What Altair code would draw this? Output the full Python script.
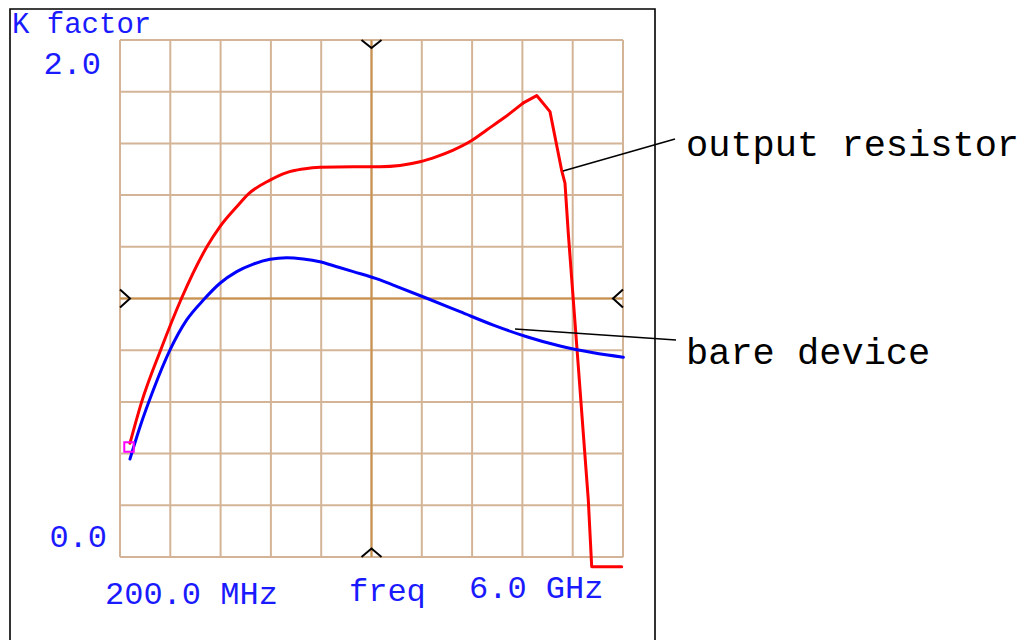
import altair as alt
import pandas as pd

# ---- data ----
red_freq = [0.315, 0.450, 0.669, 0.911, 1.207, 1.353, 1.546, 1.679, 1.930, 2.122, 2.314,
            2.506, 2.890, 3.198, 3.659, 3.852, 4.043, 4.236, 4.428, 4.620, 4.851, 5.005, 5.158,
            5.292, 5.331, 5.369, 5.427, 5.485, 5.542, 5.600, 5.639, 5.985]
red_k = [0.440, 0.600, 0.801, 1.002, 1.203, 1.278, 1.355, 1.404, 1.458, 1.487, 1.501,
         1.508, 1.510, 1.510, 1.529, 1.549, 1.574, 1.607, 1.652, 1.697, 1.757, 1.785, 1.723,
         1.497, 1.446, 1.253, 0.994, 0.736, 0.479, 0.220, -0.0375, -0.0375]

blue_freq = [0.315, 0.431, 0.584, 0.777, 0.969, 1.161, 1.353, 1.546, 1.737, 1.930, 2.122, 2.314,
             2.506, 2.699, 2.890, 3.198, 3.351, 3.737, 4.121, 4.505, 4.890, 5.274, 5.658, 6.004]
blue_k = [0.379, 0.504, 0.646, 0.801, 0.917, 0.994, 1.059, 1.104, 1.133, 1.152, 1.158, 1.153,
          1.142, 1.123, 1.104, 1.072, 1.052, 1.001, 0.949, 0.897, 0.852, 0.816, 0.790, 0.773]

marker_freq = [0.304]
marker_k = [0.4255]

grid_x = [0.2, 0.78, 1.36, 1.94, 2.52, 3.1, 3.68, 4.26, 4.84, 5.42, 6.0]
grid_y = [0.0, 0.2, 0.4, 0.6, 0.8, 1.0, 1.2, 1.4, 1.6, 1.8, 2.0]
center_x = [3.1]
center_y = [1.0]

annot_labels = ["output resistor", "bare device"]
annot_from_freq = [5.308, 4.755]
annot_from_k = [1.493, 0.882]
annot_to_freq = [6.600, 6.611]
annot_to_k = [1.617, 0.8395]

FONT = "Liberation Mono"
BLUE = "#1a1aff"

xs = alt.Scale(domain=[0.2, 6.0], nice=False, zero=False)
ys = alt.Scale(domain=[0.0, 2.0], nice=False, zero=False)

# frame around everything
frame = alt.Chart(pd.DataFrame({"a": [0]})).mark_rect(
    fill=None, stroke="black", strokeWidth=1.6
).encode(x=alt.value(-110), x2=alt.value(535), y=alt.value(-31), y2=alt.value(620))

gx = pd.DataFrame({"f": grid_x})
gy = pd.DataFrame({"k": grid_y})
vgrid = alt.Chart(gx).mark_rule(color="#d4b496", strokeWidth=2).encode(
    x=alt.X("f:Q", scale=xs, axis=None))
hgrid = alt.Chart(gy).mark_rule(color="#d4b496", strokeWidth=2).encode(
    y=alt.Y("k:Q", scale=ys, axis=None))
vcenter = alt.Chart(pd.DataFrame({"f": center_x})).mark_rule(color="#c8914f", strokeWidth=2).encode(
    x=alt.X("f:Q", scale=xs, axis=None))
hcenter = alt.Chart(pd.DataFrame({"k": center_y})).mark_rule(color="#c8914f", strokeWidth=2).encode(
    y=alt.Y("k:Q", scale=ys, axis=None))

# chevrons at mid of each border
chev = pd.DataFrame({
    "f": [3.1, 3.1, 0.2, 6.0],
    "k": [2.0, 0.0, 1.0, 1.0],
    "shape": ["M -1 0 L 0 0.8 L 1 0", "M -1 0 L 0 -0.85 L 1 0",
              "M 0 -0.9 L 1 0 L 0 0.9", "M 0 -0.9 L -1 0 L 0 0.9"],
})
chevrons = alt.Chart(chev).mark_point(filled=False, stroke="black", strokeWidth=2, size=400, opacity=1).encode(
    x=alt.X("f:Q", scale=xs, axis=None),
    y=alt.Y("k:Q", scale=ys, axis=None),
    shape=alt.Shape("shape:N", scale=None, legend=None),
)

SPLIT = 20  # smooth part of the red trace ends at the rising shoulder
red_smooth = pd.DataFrame({"f": red_freq[:SPLIT + 1], "k": red_k[:SPLIT + 1], "i": range(SPLIT + 1)})
red_sharp = pd.DataFrame({"f": red_freq[SPLIT:], "k": red_k[SPLIT:], "i": range(len(red_freq) - SPLIT)})
blue_df = pd.DataFrame({"f": blue_freq, "k": blue_k, "i": range(len(blue_freq))})

def trace(df, color, interp):
    return alt.Chart(df).mark_line(color=color, strokeWidth=3, clip=False, interpolate=interp,
                                   strokeJoin="round", strokeCap="round").encode(
        x=alt.X("f:Q", scale=xs, axis=None), y=alt.Y("k:Q", scale=ys, axis=None), order="i:Q")

red_line1 = trace(red_smooth, "#ff0000", "monotone")
red_line2 = trace(red_sharp, "#ff0000", "linear")
blue_line = trace(blue_df, "#0000ff", "monotone")

marker = alt.Chart(pd.DataFrame({"f": marker_freq, "k": marker_k})).mark_point(
    shape="square", filled=False, stroke="#ff00ff", strokeWidth=2, size=90, opacity=1
).encode(x=alt.X("f:Q", scale=xs, axis=None), y=alt.Y("k:Q", scale=ys, axis=None))

ann_df = pd.DataFrame({"label": annot_labels, "f": annot_from_freq, "k": annot_from_k,
                       "f2": annot_to_freq, "k2": annot_to_k})
leaders = alt.Chart(ann_df).mark_rule(color="black", strokeWidth=1.6).encode(
    x=alt.X("f:Q", scale=xs, axis=None), y=alt.Y("k:Q", scale=ys, axis=None),
    x2="f2:Q", y2="k2:Q")

def label(text, x, y, color, size, align="left"):
    return alt.Chart(pd.DataFrame({"t": [text]})).mark_text(
        font=FONT, fontSize=size, color=color, align=align, baseline="alphabetic"
    ).encode(x=alt.value(x), y=alt.value(y), text="t:N")

texts = [
    label("K factor", -108, -7, BLUE, 29),
    label("2.0", -19, 34, BLUE, 32, "right"),
    label("0.0", -13, 507, BLUE, 32, "right"),
    label("200.0 MHz", -15, 564, BLUE, 32),
    label("freq", 229, 561, BLUE, 32),
    label("6.0 GHz", 349, 558, BLUE, 32),
    label("output resistor", 566, 116, "black", 37),
    label("bare device", 566, 324, "black", 37),
]

chart = alt.layer(
    frame, vgrid, hgrid, vcenter, hcenter, red_line1, red_line2, blue_line, marker, leaders, chevrons, *texts
).properties(
    width=503, height=517,
    autosize=alt.AutoSizeParams(type="none"),
    padding={"left": 112, "top": 32, "right": 405, "bottom": 83},
).configure_view(stroke="black", strokeWidth=2.5).configure(background="white")

chart.save("out.html", embed_options={"renderer": "svg", "actions": False})
